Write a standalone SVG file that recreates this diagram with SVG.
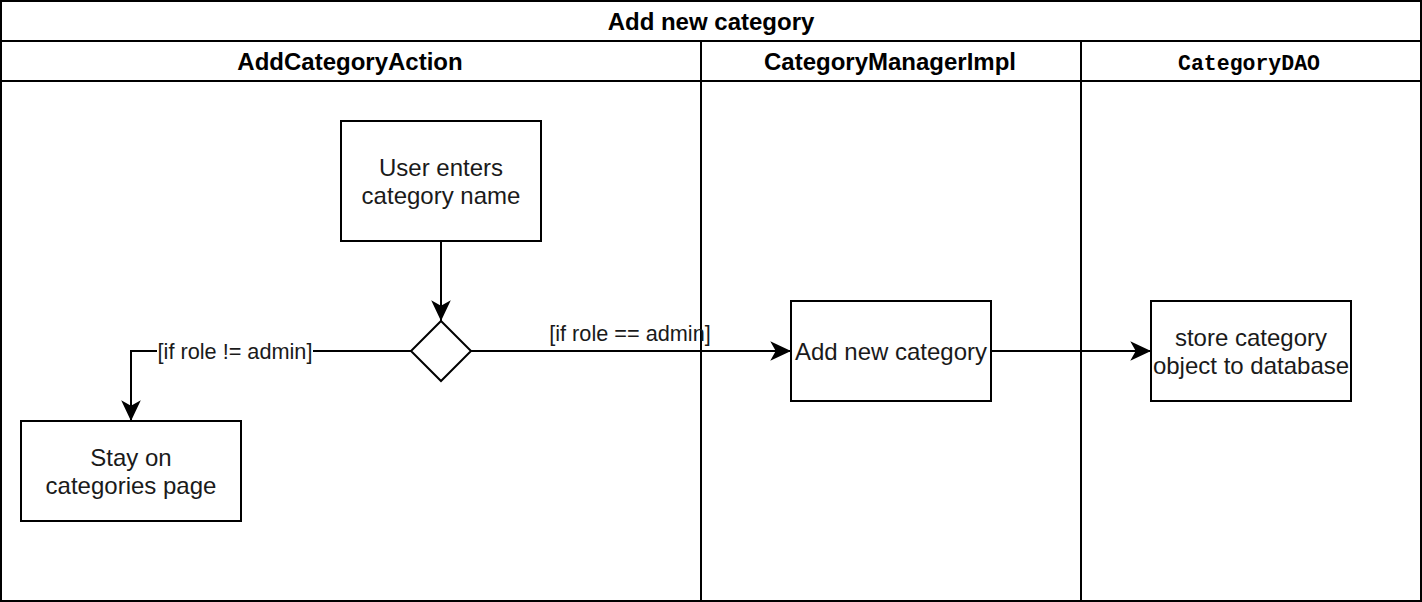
<svg xmlns="http://www.w3.org/2000/svg" width="1422" height="602" viewBox="0 0 1422 602">
<style>
.frame{fill:#ffffff;stroke:#000000;stroke-width:2}
.ln{fill:none;stroke:#000000;stroke-width:2}
.node{fill:#ffffff;stroke:#000000;stroke-width:2}
.t{font-family:"Liberation Sans",Arial,Helvetica,sans-serif;font-size:24px;fill:#1a1a1a;text-anchor:middle}
.h{font-family:"Liberation Sans",Arial,Helvetica,sans-serif;font-size:24px;font-weight:bold;fill:#000000;text-anchor:middle}
.m{font-family:"Liberation Mono","DejaVu Sans Mono",monospace;font-size:21.5px;font-weight:bold;fill:#000000;text-anchor:middle}
.lbl{font-family:"Liberation Sans",Arial,Helvetica,sans-serif;font-size:21.7px;fill:#1a1a1a;text-anchor:middle}
</style>
<defs>
<marker id="arr" markerUnits="userSpaceOnUse" markerWidth="24" markerHeight="24" viewBox="-20 -10 22 20" refX="0" refY="0" orient="auto">
<path d="M0,0 L-19,-9 L-14,0 L-19,9 Z" fill="#000000"/>
</marker>
</defs>
<rect x="0" y="0" width="1422" height="602" fill="#ffffff"/>
<g id="pool">
<rect class="frame" x="1" y="1" width="1420" height="600"/>
<line class="ln" x1="1" y1="41" x2="1421" y2="41"/>
<line class="ln" x1="1" y1="81" x2="1421" y2="81"/>
<line class="ln" x1="701" y1="41" x2="701" y2="601"/>
<line class="ln" x1="1081" y1="41" x2="1081" y2="601"/>
<text class="h" x="711" y="30" font-size="25">Add new category</text>
<text class="h" x="350" y="70">AddCategoryAction</text>
<text class="h" x="890" y="70">CategoryManagerImpl</text>
<text class="m" x="1249" y="70">CategoryDAO</text>
</g>
<g id="connectors">
<line class="ln" x1="441" y1="241" x2="441" y2="321" marker-end="url(#arr)"/>
<polyline class="ln" points="411,351 131,351 131,421" marker-end="url(#arr)"/>
<rect x="157" y="338" width="156" height="26" fill="#ffffff"/>
<text class="lbl" x="235" y="359">[if role != admin]</text>
<line class="ln" x1="471" y1="351" x2="791" y2="351" marker-end="url(#arr)"/>
<text class="lbl" x="630" y="341">[if role == admin]</text>
<line class="ln" x1="991" y1="351" x2="1151" y2="351" marker-end="url(#arr)"/>
</g>
<g id="user-enters">
<rect class="node" x="341" y="121" width="200" height="120"/>
<text class="t" x="441" y="176">User enters</text>
<text class="t" x="441" y="204">category name</text>
</g>
<g id="decision">
<polygon class="node" points="441,321 471,351 441,381 411,351"/>
</g>
<g id="stay-on">
<rect class="node" x="21" y="421" width="220" height="100"/>
<text class="t" x="131" y="466">Stay on</text>
<text class="t" x="131" y="494">categories page</text>
</g>
<g id="add-new">
<rect class="node" x="791" y="301" width="200" height="100"/>
<text class="t" x="891" y="360">Add new category</text>
</g>
<g id="store">
<rect class="node" x="1151" y="301" width="200" height="100"/>
<text class="t" x="1251" y="346">store category</text>
<text class="t" x="1251" y="374">object to database</text>
</g>
</svg>
